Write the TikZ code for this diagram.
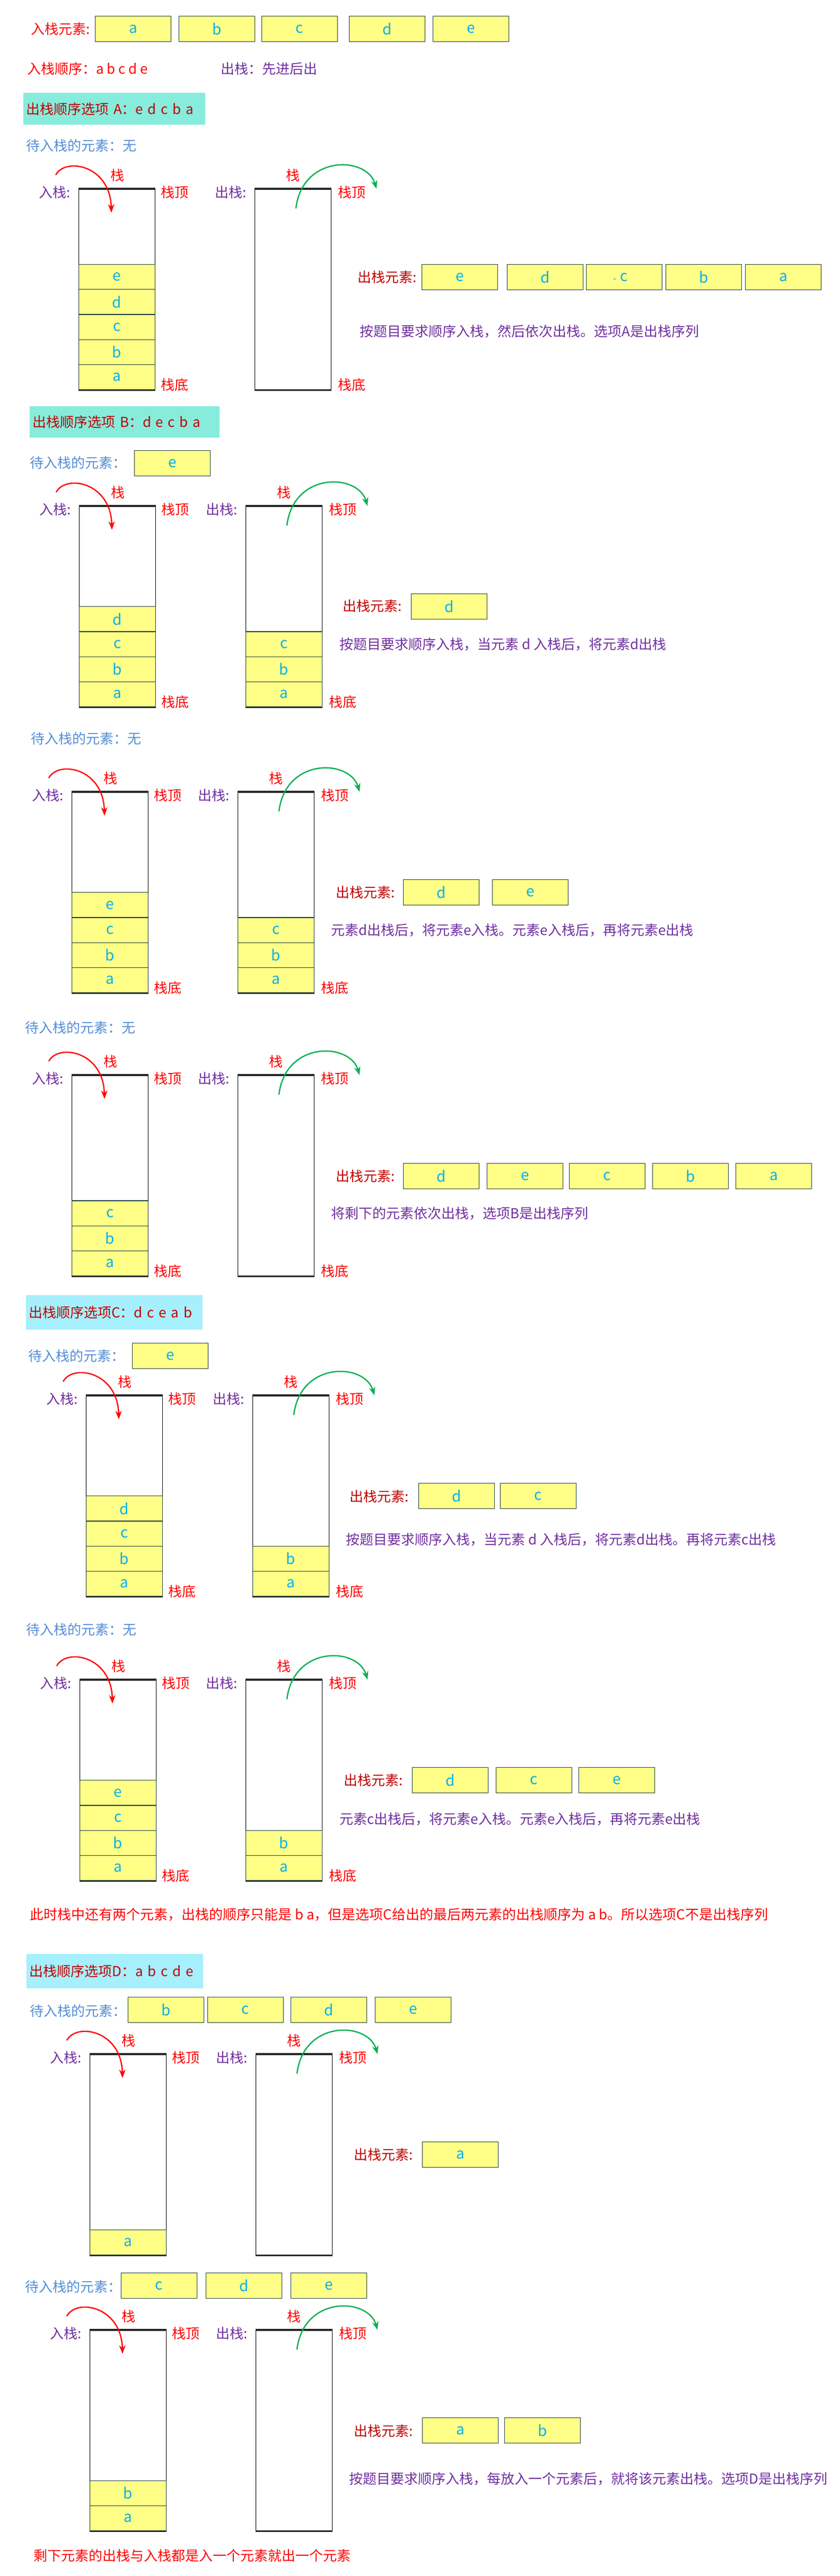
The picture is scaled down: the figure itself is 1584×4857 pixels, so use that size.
\documentclass[tikz,border=0pt]{standalone}
\usepackage{fontspec}
\setmainfont{Noto Sans CJK SC}
\usetikzlibrary{arrows.meta}

\definecolor{redtxt}{HTML}{FF0000}
\definecolor{darkred}{HTML}{C00000}
\definecolor{purpletxt}{HTML}{7030A0}
\definecolor{bluetxt}{HTML}{558ED5}
\definecolor{letterblue}{HTML}{00B0F0}
\definecolor{cellfill}{HTML}{FFFF88}
\definecolor{cellline}{HTML}{203F3F}
\definecolor{tealA}{HTML}{87ECDC}
\definecolor{cyanC}{HTML}{A6EFFC}
\definecolor{popgreen}{HTML}{00B050}

\tikzset{
  every node/.style={font=\fontsize{13}{15}\selectfont, inner sep=0pt},
  elem/.style={draw=cellline, line width=0.6pt, fill=cellfill, text=letterblue,
    font=\fontsize{14}{16}\selectfont, minimum width=71.5pt, minimum height=24pt, anchor=north west},
  cell/.style={elem, minimum width=72pt, minimum height=23.625pt, anchor=south west},
  stackbox/.style={draw=black, line width=0.7pt, minimum width=72pt, minimum height=189pt, anchor=north west},
  rim/.style={line width=1.8pt, black!85},
  titlebox/.style={anchor=north west, text=darkred, align=left, inner xsep=2.5pt},
  redlbl/.style={text=redtxt},
  darkredlbl/.style={text=darkred},
  purplelbl/.style={text=purpletxt},
  bluelbl/.style={text=bluetxt},
  pusharrow/.style={draw=redtxt, line width=1.2pt, -{Stealth[length=8pt,width=6pt]}},
  poparrow/.style={draw=popgreen, line width=1.2pt, -{Stealth[length=8pt,width=6pt]}}
}

\newcommand{\stackpair}[4]{%
  \node[stackbox] (#1in) at (#2,#4) {};
  \node[stackbox] (#1out) at (#3,#4) {};
  \draw[rim] (#1in.north west) -- (#1in.north east);
  \draw[rim] (#1out.north west) -- (#1out.north east);
  \draw[rim] (#1in.south west) -- (#1in.south east);
  \draw[rim] (#1out.south west) -- (#1out.south east);
  \node[purplelbl, anchor=east] (#1inlbl) at ([xshift=-7.5pt,yshift=-3.5pt]#1in.north west) {入栈:};
  \node[redlbl, anchor=west] (#1intop) at ([xshift=5pt,yshift=-3.5pt]#1in.north east) {栈顶};
  \node[redlbl] (#1inname) at ([xshift=0.5pt,yshift=12.5pt]#1in.north) {栈};
  \node[purplelbl, anchor=east] (#1outlbl) at ([xshift=-7.5pt,yshift=-3.5pt]#1out.north west) {出栈:};
  \node[redlbl, anchor=west] (#1outtop) at ([xshift=6pt,yshift=-3.5pt]#1out.north east) {栈顶};
  \node[redlbl] (#1outname) at ([yshift=12.5pt]#1out.north) {栈};
  \coordinate (#1pa) at ([xshift=-21.5pt,yshift=13pt]#1in.north west);
  \coordinate (#1pb) at ([xshift=31pt,yshift=-22.5pt]#1in.north west);
  \coordinate (#1qa) at ([xshift=39pt,yshift=-18.5pt]#1out.north west);
  \coordinate (#1qb) at ([xshift=115pt]#1out.north west);
  \draw[pusharrow] (#1pa) .. controls +(9pt,17pt) and +(-1pt,45pt) .. (#1pb);
  \draw[poparrow] (#1qa) .. controls +(6pt,51pt) and +(-9pt,31pt) .. (#1qb);
}
\newcommand{\stackbase}[1]{%
  \node[redlbl, anchor=west] (#1inbot) at ([xshift=5pt,yshift=5pt]#1in.south east) {栈底};
  \node[redlbl, anchor=west] (#1outbot) at ([xshift=6pt,yshift=5pt]#1out.south east) {栈底};
}

\begin{document}
\begin{tikzpicture}[x=0.5pt,y=-0.5pt]
\useasboundingbox (0,0) rectangle (1584,4857);
\fill[white] (0,0) rectangle (1584,4857);

\node[redlbl, anchor=east] (pushlbl) at (170,55) {入栈元素:};
\foreach \x/\c in {179/a,337/b,493/c,658/d,816/e}
  \node[elem] (push\c) at (\x,30) {\c};
\node[redlbl, anchor=west] (order) at (51,130) {入栈顺序：a b c d e};
\node[purplelbl, anchor=west] (rule) at (416,130) {出栈：先进后出};

\node[titlebox, fill=tealA, minimum width=171.5pt, minimum height=30pt, text width=166.5pt] (optA) at (44,175) {出栈顺序选项 A：e d c b a};
\node[bluelbl, anchor=west] (Await) at (49,275) {待入栈的元素：无};
\stackpair{A}{148}{480}{356}
\foreach \c [count=\i] in {a,b,c,d,e}
  \node[cell] (Ain\c) at ([yshift={(\i-1)*23.625pt}]Ain.south west) {\c};
\stackbase{A}
\node[darkredlbl, anchor=east] (Apoplbl) at (786,523) {出栈元素:};
\node[elem] (Apop1) at (795,498) {e};
\node[elem] (Apop2) at (956,498) {d};
\node[elem] (Apop3) at (1105,498) {\llap{\fontsize{5}{5}\selectfont +\hspace{4pt}}c};
\node[elem] (Apop4) at (1255,498) {b};
\node[elem] (Apop5) at (1405,498) {a};
\node[purplelbl, anchor=west] (Anote) at (678,625) {按题目要求顺序入栈，然后依次出栈。选项A是出栈序列};

\node[titlebox, fill=tealA, minimum width=179pt, minimum height=29.5pt, text width=174pt] (optB) at (56,766) {出栈顺序选项 B：d e c b a};
\node[bluelbl, anchor=west] (B1wait) at (56,873) {待入栈的元素：};
\node[elem] (B1waite) at (253,849) {e};
\stackpair{B1}{149}{463}{954}
\foreach \c [count=\i] in {a,b,c,d}
  \node[cell] (B1in\c) at ([yshift={(\i-1)*23.625pt}]B1in.south west) {\c};
\foreach \c [count=\i] in {a,b,c}
  \node[cell] (B1out\c) at ([yshift={(\i-1)*23.625pt}]B1out.south west) {\c};
\stackbase{B1}
\node[darkredlbl, anchor=east] (B1poplbl) at (758,1143) {出栈元素:};
\node[elem] (B1pop1) at (775,1119) {d};
\node[purplelbl, anchor=west] (B1note) at (640,1215) {按题目要求顺序入栈，当元素 d 入栈后，将元素d出栈};

\node[bluelbl, anchor=west] (B2wait) at (58,1393) {待入栈的元素：无};
\stackpair{B2}{135}{448}{1493}
\foreach \c [count=\i] in {a,b,c,e}
  \node[cell] (B2in\c) at ([yshift={(\i-1)*23.625pt}]B2in.south west) {\c};
\foreach \c [count=\i] in {a,b,c}
  \node[cell] (B2out\c) at ([yshift={(\i-1)*23.625pt}]B2out.south west) {\c};
\stackbase{B2}
\node[darkredlbl, anchor=east] (B2poplbl) at (745,1683) {出栈元素:};
\node[elem] (B2pop1) at (760,1658) {d};
\node[elem] (B2pop2) at (928,1658) {e};
\node[purplelbl, anchor=west] (B2note) at (624,1754) {元素d出栈后，将元素e入栈。元素e入栈后，再将元素e出栈};

\node[bluelbl, anchor=west] (B3wait) at (47,1938) {待入栈的元素：无};
\stackpair{B3}{135}{448}{2027}
\foreach \c [count=\i] in {a,b,c}
  \node[cell] (B3in\c) at ([yshift={(\i-1)*23.625pt}]B3in.south west) {\c};
\stackbase{B3}
\node[darkredlbl, anchor=east] (B3poplbl) at (745,2218) {出栈元素:};
\foreach \x/\c [count=\i] in {760/d,918/e,1073/c,1230/b,1387/a}
  \node[elem] (B3pop\i) at (\x,2193) {\c};
\node[purplelbl, anchor=west] (B3note) at (624,2288) {将剩下的元素依次出栈，选项B是出栈序列};

\node[titlebox, fill=cyanC, minimum width=166.5pt, minimum height=32.5pt, text width=161.5pt] (optC) at (49,2442) {出栈顺序选项C：d c e a b};
\node[bluelbl, anchor=west] (C1wait) at (53,2557) {待入栈的元素：};
\node[elem] (C1waite) at (249,2532) {e};
\stackpair{C1}{162}{476}{2631}
\foreach \c [count=\i] in {a,b,c,d}
  \node[cell] (C1in\c) at ([yshift={(\i-1)*23.625pt}]C1in.south west) {\c};
\foreach \c [count=\i] in {a,b}
  \node[cell] (C1out\c) at ([yshift={(\i-1)*23.625pt}]C1out.south west) {\c};
\stackbase{C1}
\node[darkredlbl, anchor=east] (C1poplbl) at (771,2822) {出栈元素:};
\node[elem] (C1pop1) at (789,2796) {d};
\node[elem] (C1pop2) at (943,2796) {c};
\node[purplelbl, anchor=west] (C1note) at (652,2903) {按题目要求顺序入栈，当元素 d 入栈后，将元素d出栈。再将元素c出栈};

\node[bluelbl, anchor=west] (C2wait) at (49,3073) {待入栈的元素：无};
\stackpair{C2}{150}{463}{3167}
\foreach \c [count=\i] in {a,b,c,e}
  \node[cell] (C2in\c) at ([yshift={(\i-1)*23.625pt}]C2in.south west) {\c};
\foreach \c [count=\i] in {a,b}
  \node[cell] (C2out\c) at ([yshift={(\i-1)*23.625pt}]C2out.south west) {\c};
\stackbase{C2}
\node[darkredlbl, anchor=east] (C2poplbl) at (760,3357) {出栈元素:};
\foreach \x/\c [count=\i] in {777/d,935/c,1091/e}
  \node[elem] (C2pop\i) at (\x,3332) {\c};
\node[purplelbl, anchor=west] (C2note) at (640,3430) {元素c出栈后，将元素e入栈。元素e入栈后，再将元素e出栈};
\node[redlbl, anchor=west] (Cend) at (56,3610) {此时栈中还有两个元素，出栈的顺序只能是 b a，但是选项C给出的最后两元素的出栈顺序为 a b。所以选项C不是出栈序列};

\node[titlebox, fill=cyanC, minimum width=166.5pt, minimum height=32.5pt, text width=161.5pt] (optD) at (50,3684) {出栈顺序选项D：a b c d e};
\node[bluelbl, anchor=west] (D1wait) at (56,3792) {待入栈的元素：};
\foreach \x/\c in {241/b,391/c,548/d,707/e}
  \node[elem] (D1wait\c) at (\x,3765) {\c};
\stackpair{D1}{169}{482}{3873}
\node[cell] (D1ina) at (D1in.south west) {a};
\node[darkredlbl, anchor=east] (D1poplbl) at (779,4063) {出栈元素:};
\node[elem] (D1pop1) at (796,4038) {a};

\node[bluelbl, anchor=west] (D2wait) at (47,4312) {待入栈的元素：};
\foreach \x/\c in {228/c,388/d,548/e}
  \node[elem] (D2wait\c) at (\x,4285) {\c};
\stackpair{D2}{169}{482}{4393}
\foreach \c [count=\i] in {a,b}
  \node[cell] (D2in\c) at ([yshift={(\i-1)*23.625pt}]D2in.south west) {\c};
\node[darkredlbl, anchor=east] (D2poplbl) at (779,4584) {出栈元素:};
\node[elem] (D2pop1) at (796,4558) {a};
\node[elem] (D2pop2) at (951,4558) {b};
\node[purplelbl, anchor=west] (D2note) at (658,4674) {按题目要求顺序入栈，每放入一个元素后，就将该元素出栈。选项D是出栈序列};
\node[redlbl, anchor=west] (Dend) at (63,4819) {剩下元素的出栈与入栈都是入一个元素就出一个元素};
\end{tikzpicture}
\end{document}
